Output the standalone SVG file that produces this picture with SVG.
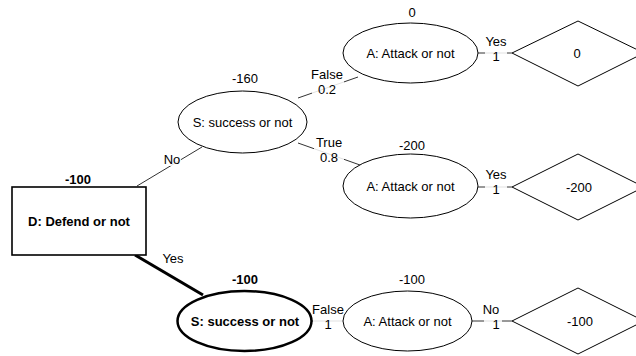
<svg xmlns="http://www.w3.org/2000/svg" width="636" height="356" viewBox="0 0 636 356">
<style>
text{font-family:"Liberation Sans",Arial,sans-serif;font-size:13px;fill:#000;text-anchor:middle;dominant-baseline:central}
.b{font-weight:bold}
.edge{stroke:#333;stroke-width:1;fill:none}
.thick{stroke:#000;stroke-width:3;fill:none}
.node{fill:#fff;stroke:#000;stroke-width:1}
.lbg{fill:#fff;fill-opacity:0.85}
</style>
<rect width="636" height="356" fill="#fff"/>
<g id="connectors">
<line class="edge" x1="137" y1="186" x2="202" y2="147"/>
<line class="thick" x1="135" y1="255" x2="203" y2="295"/>
<line class="edge" x1="298" y1="98" x2="358" y2="77"/>
<line class="edge" x1="298" y1="143" x2="360" y2="165"/>
<line class="edge" x1="312" y1="321" x2="343" y2="321"/>
<line class="edge" x1="478" y1="53" x2="512" y2="53"/>
<line class="edge" x1="478" y1="187" x2="512" y2="187"/>
<line class="edge" x1="472" y1="321" x2="512" y2="321"/>
<rect class="lbg" x="164" y="151" width="17" height="15"/>
<rect class="lbg" x="312" y="67" width="32" height="30"/>
<rect class="lbg" x="314" y="135" width="30" height="29"/>
<rect class="lbg" x="313" y="302" width="31" height="29"/>
<rect class="lbg" x="485" y="34" width="22" height="30"/>
<rect class="lbg" x="485" y="167" width="22" height="30"/>
<rect class="lbg" x="484" y="301" width="18" height="30"/>
<text x="172" y="159">No</text>
<text x="173" y="258">Yes</text>
<text x="327" y="74">False</text>
<text x="327" y="89">0.2</text>
<text x="329" y="142">True</text>
<text x="329" y="157">0.8</text>
<text x="328" y="309">False</text>
<text x="328" y="324">1</text>
<text x="496" y="41">Yes</text>
<text x="496" y="56">1</text>
<text x="496" y="174">Yes</text>
<text x="496" y="189">1</text>
<text x="491" y="309">No</text>
<text x="496" y="324">1</text>
</g>
<g id="D">
<rect class="node" x="12" y="187" width="134" height="68" style="stroke-width:1.6"/>
<text class="b" x="79" y="221">D: Defend or not</text>
<text class="b" x="78" y="179">-100</text>
</g>
<g id="S1">
<ellipse class="node" cx="242.5" cy="122" rx="64.5" ry="31"/>
<text x="242.5" y="122">S: success or not</text>
<text x="245" y="78">-160</text>
</g>
<g id="S2">
<ellipse class="node" cx="244.5" cy="321" rx="67" ry="30" style="stroke-width:2.5"/>
<text class="b" x="245" y="321">S: success or not</text>
<text class="b" x="245" y="279">-100</text>
</g>
<g id="A1">
<ellipse class="node" cx="410.5" cy="53" rx="67.5" ry="30"/>
<text x="410.5" y="53">A: Attack or not</text>
<text x="412" y="12">0</text>
</g>
<g id="A2">
<ellipse class="node" cx="410.5" cy="186" rx="67.5" ry="32"/>
<text x="410.5" y="186">A: Attack or not</text>
<text x="412" y="145">-200</text>
</g>
<g id="A3">
<ellipse class="node" cx="407.5" cy="321" rx="64.5" ry="30"/>
<text x="407.5" y="321">A: Attack or not</text>
<text x="412" y="279">-100</text>
</g>
<g id="V1">
<polygon class="node" points="512,53 578,21 644,53 578,86"/>
<text x="577" y="53">0</text>
</g>
<g id="V2">
<polygon class="node" points="512,187 578,154 644,187 578,220"/>
<text x="579" y="187">-200</text>
</g>
<g id="V3">
<polygon class="node" points="512,321 578,288 644,321 578,354"/>
<text x="580" y="321">-100</text>
</g>
</svg>
